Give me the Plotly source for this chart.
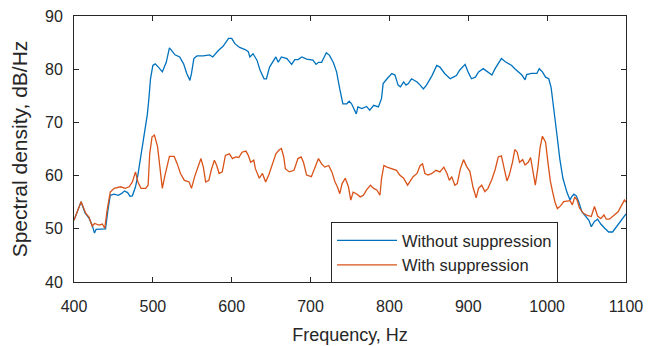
import plotly.graph_objects as go

# ---- data ----
freq_without = [400, 404, 409, 414, 419, 423, 426, 428, 436, 440, 443, 446, 451, 456, 460, 464, 468, 471, 474, 478,
                481, 485, 489, 491, 493, 495, 497, 500, 503, 507, 512, 517, 521, 524, 528, 534, 539, 543, 547, 549,
                552, 556, 564, 572, 576, 583, 589, 596, 600, 604, 610, 617, 621, 623, 627, 632, 636, 641, 644, 648,
                653, 656, 659, 663, 670, 676, 680, 684, 689, 695, 703, 707, 710, 714, 720, 724, 729, 733, 737, 741,
                746, 749, 752, 755, 758, 760, 765, 771, 775, 780, 786, 790, 792, 797, 803, 807, 811, 814, 818, 821,
                824, 828, 835, 839, 843, 847, 854, 860, 864, 870, 877, 881, 885, 889, 894, 896, 900, 904, 909, 913,
                919, 924, 930, 934, 938, 942, 947, 951, 955, 959, 963, 968, 972, 974, 980, 987, 990, 994, 998, 1002,
                1005, 1008, 1012, 1016, 1020, 1025, 1029, 1031, 1034, 1037, 1040, 1044, 1048, 1053, 1056, 1060, 1064,
                1068, 1073, 1078, 1083, 1088, 1092, 1096, 1100]
psd_without = [51.6, 53.0, 55.1, 53.0, 52.0, 50.7, 49.2, 49.9, 49.9, 50.0, 53.5, 56.3, 56.5, 56.3, 56.6, 57.1, 56.8, 56.1, 56.2, 57.9,
               60.1, 64.1, 67.3, 69.5, 71.5, 74.5, 78.2, 80.7, 81.0, 80.4, 79.5, 81.3, 84.0, 83.5, 82.7, 82.3, 81.0, 79.2, 77.9, 79.2,
               82.0, 82.5, 82.5, 82.7, 82.3, 83.5, 84.3, 85.8, 85.8, 84.8, 84.1, 83.7, 83.3, 82.3, 82.9, 81.7, 79.8, 78.2, 78.2, 80.4,
               81.7, 82.3, 81.3, 82.3, 82.0, 80.9, 81.8, 81.8, 82.3, 81.9, 81.7, 80.9, 81.3, 81.3, 83.1, 82.6, 81.2, 79.5, 76.3, 73.5,
               73.5, 74.0, 73.5, 72.6, 71.6, 72.9, 72.6, 73.0, 72.3, 73.2, 72.9, 74.5, 77.3, 78.2, 79.2, 78.9, 77.0, 76.7, 77.6, 77.0,
               77.3, 78.2, 77.6, 77.0, 76.3, 77.0, 78.8, 80.7, 80.4, 79.2, 78.2, 78.5, 78.8, 79.8, 80.7, 80.9, 79.4, 78.2, 78.5, 79.5,
               80.1, 79.5, 78.9, 80.1, 81.0, 82.0, 81.4, 81.0, 80.7, 80.1, 79.5, 78.9, 78.0, 79.0, 79.2, 79.2, 80.1, 79.5, 78.5, 78.2,
               76.6, 72.6, 68.2, 63.2, 59.5, 56.9, 55.4, 56.0, 56.5, 56.2, 55.1, 53.2, 52.4, 51.6, 50.4, 51.4, 51.8,
               50.9, 50.1, 49.4, 49.4, 50.4, 51.0, 51.9, 52.8]

freq_with = [400, 404, 409, 415, 419, 423, 426, 432, 436, 439, 442, 446, 451, 459, 465, 470, 474, 478, 481, 485,
             491, 494, 496, 499, 502, 506, 509, 512, 515, 518, 521, 527, 531, 535, 540, 546, 549, 553, 558, 561,
             564, 567, 571, 574, 578, 581, 584, 588, 592, 597, 601, 605, 609, 613, 618, 621, 624, 628, 630, 635,
             639, 643, 647, 652, 656, 660, 663, 666, 668, 673, 679, 684, 688, 691, 695, 701, 706, 710, 714, 718,
             723, 727, 731, 734, 737, 740, 744, 748, 751, 754, 758, 763, 767, 771, 776, 780, 784, 788, 790, 793,
             797, 803, 809, 813, 818, 823, 827, 830, 835, 839, 842, 845, 849, 854, 859, 864, 869, 873, 876, 879,
             883, 886, 890, 894, 898, 902, 906, 910, 913, 917, 921, 925, 930, 934, 938, 942, 945, 949, 952, 956,
             959, 962, 965, 969, 972, 976, 979, 982, 985, 988, 991, 994, 998, 1001, 1004, 1007, 1010, 1013, 1017,
             1021, 1025, 1029, 1032, 1035, 1038, 1041, 1046, 1051, 1056, 1060, 1064, 1068, 1072, 1075, 1079, 1086,
             1090, 1094, 1098, 1100]
psd_with = [51.6, 53.2, 55.1, 52.9, 52.2, 50.5, 51.0, 50.7, 50.9, 50.1, 53.5, 56.9, 57.6, 57.9, 57.6, 57.9, 58.8, 60.7, 58.8, 57.6,
            57.6, 58.2, 64.1, 67.3, 67.6, 65.4, 61.0, 57.6, 59.8, 61.6, 63.6, 63.6, 62.2, 60.4, 59.1, 58.8, 57.6, 59.8, 61.9, 63.2,
            61.6, 58.8, 59.1, 61.0, 62.9, 61.9, 60.4, 60.7, 63.8, 64.1, 63.2, 63.5, 63.4, 64.4, 64.6, 63.8, 62.5, 62.9, 61.3, 59.5,
            60.4, 58.8, 60.1, 62.2, 64.1, 64.8, 65.1, 63.5, 61.3, 60.7, 61.0, 63.2, 63.5, 62.5, 60.1, 59.8, 61.6, 63.2, 62.2, 61.6,
            61.9, 60.7, 58.8, 57.9, 56.6, 58.5, 59.5, 57.9, 55.4, 56.9, 56.6, 56.0, 56.3, 57.3, 58.2, 57.6, 57.3, 56.3, 59.5, 61.9,
            61.6, 61.3, 61.0, 60.1, 59.5, 58.2, 59.1, 59.8, 60.4, 61.9, 62.2, 60.4, 60.1, 60.4, 61.0, 60.7, 61.6, 60.4, 59.1, 59.8,
            58.2, 58.5, 61.3, 63.0, 61.7, 60.8, 57.8, 55.8, 57.6, 58.2, 57.0, 57.6, 59.3, 61.1, 63.5, 63.7, 61.7, 59.0, 60.1, 62.5,
            64.9, 64.4, 62.5, 63.0, 62.0, 62.5, 63.4, 60.9, 58.2, 61.2, 65.2, 67.4, 66.3, 62.5, 59.0, 56.9, 55.0, 53.8, 54.3,
            55.1, 55.2, 55.3, 54.5, 56.0, 55.4, 53.9, 52.9, 52.5, 52.3, 54.2, 52.4, 51.9, 52.6, 51.8, 51.8, 52.6,
            53.2, 54.3, 55.4, 55.0]

x_ticks = [400, 500, 600, 700, 800, 900, 1000, 1100]
y_ticks = [40, 50, 60, 70, 80, 90]

axis_color = "#262626"
font_family = "Liberation Sans, Arial, sans-serif"

fig = go.Figure()
fig.add_trace(go.Scatter(x=freq_without, y=psd_without, mode="lines", name="Without suppression",
                         line=dict(color="#0072BD", width=1.3)))
fig.add_trace(go.Scatter(x=freq_with, y=psd_with, mode="lines", name="With suppression",
                         line=dict(color="#D95319", width=1.3)))

axis_common = dict(showline=True, linecolor=axis_color, linewidth=1, mirror="ticks",
                   ticks="inside", ticklen=5, tickcolor=axis_color, tickwidth=1,
                   showgrid=False, zeroline=False,
                   tickfont=dict(family=font_family, size=16, color=axis_color))

fig.update_layout(
    width=653, height=346,
    margin=dict(l=74, r=27, t=16, b=64, autoexpand=False),
    paper_bgcolor="white", plot_bgcolor="white",
    font=dict(family=font_family, color=axis_color),
    xaxis=dict(range=[400, 1100], tickvals=x_ticks, ticklabelstandoff=10,
               title=dict(text="Frequency, Hz", font=dict(size=18, color=axis_color), standoff=14),
               **axis_common),
    yaxis=dict(range=[40, 90], tickvals=y_ticks, ticklabelstandoff=7,
               title=dict(text="Spectral density, dB/Hz", font=dict(size=21, color=axis_color), standoff=11),
               **axis_common),
    legend=dict(x=0.4656, y=0.225, xanchor="left", yanchor="top",
                bgcolor="white", bordercolor=axis_color, borderwidth=1,
                font=dict(family=font_family, size=16.5, color=axis_color),
                itemwidth=60, tracegroupgap=0),
    showlegend=True,
)

fig.write_html("out.html")
